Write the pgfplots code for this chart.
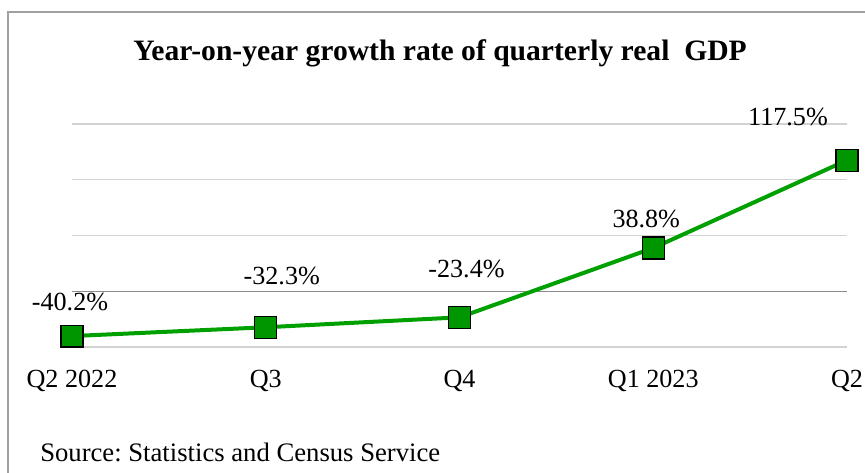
\documentclass[border=0pt]{standalone}
\usepackage{pgfplots}
\pgfplotsset{compat=1.18}
\usepackage{fontspec}
\setmainfont{Liberation Serif}
\frenchspacing
\definecolor{gridc}{RGB}{210,210,210}
\definecolor{zeroc}{RGB}{140,140,140}
\definecolor{linec}{RGB}{0,160,0}
\definecolor{markc}{RGB}{0,150,0}
\definecolor{framec}{RGB}{160,160,160}
\begin{document}
\begin{tikzpicture}
\useasboundingbox (-54pt,-93.75pt) rectangle (594.75pt,260.25pt);
\clip (-54pt,-93.75pt) rectangle (594.75pt,260.25pt);
\draw[framec, line width=1.5pt] (-48pt,-130pt) rectangle (640pt,251.25pt);
\begin{axis}[
  at={(0pt,0pt)}, anchor=south west,
  scale only axis, width=581.25pt, height=167.25pt,
  xmin=0, xmax=4, ymin=-50, ymax=150,
  clip=false,
  axis line style={draw=none},
  major tick length=0pt,
  xtick={0,1,2,3,4},
  xticklabels={Q2 2022,Q3,Q4,Q1 2023,\makebox[0pt][l]{\hspace{-12pt}Q2}},
  xticklabel style={anchor=base, yshift=-30pt, font=\fontsize{19.6}{22}\selectfont},
  ytick={-50,50,100,150},
  yticklabels={},
  ymajorgrids,
  grid style={gridc, line width=1.1pt},
  extra y ticks={0},
  extra y tick labels={},
  extra y tick style={grid style={zeroc, line width=1.1pt}},
]
\addplot[linec, line width=3pt, mark=square*, mark size=8.2pt,
  mark options={fill=markc, draw=black, line width=0.9pt}]
  coordinates {(0,-40.2) (1,-32.3) (2,-23.4) (3,38.8) (4,117.5)};
\begin{scope}[every node/.style={anchor=base, font=\fontsize{19.6}{22}\selectfont, inner sep=0pt}]
\node at (axis cs:0,-40.2) [xshift=-1.5pt, yshift=19.5pt] {-40.2\%};
\node at (axis cs:1,-32.3) [xshift=12pt, yshift=32.25pt] {-32.3\%};
\node at (axis cs:2,-23.4) [xshift=5.25pt, yshift=30pt] {-23.4\%};
\node at (axis cs:3,38.8) [xshift=-5.25pt, yshift=15.5pt] {38.8\%};
\node at (axis cs:4,117.5) [xshift=-44.25pt, yshift=26.25pt] {117.5\%};
\end{scope}
\end{axis}
\node[font=\fontsize{22.2}{26}\selectfont\bfseries] at (276pt,220.5pt) {Year-on-year growth rate of quarterly real\ \ GDP};
\node[anchor=base west, inner sep=0pt, font=\fontsize{20}{23}\selectfont] at (-24pt,-85.5pt) {Source: Statistics and Census Service};
\end{tikzpicture}
\end{document}
